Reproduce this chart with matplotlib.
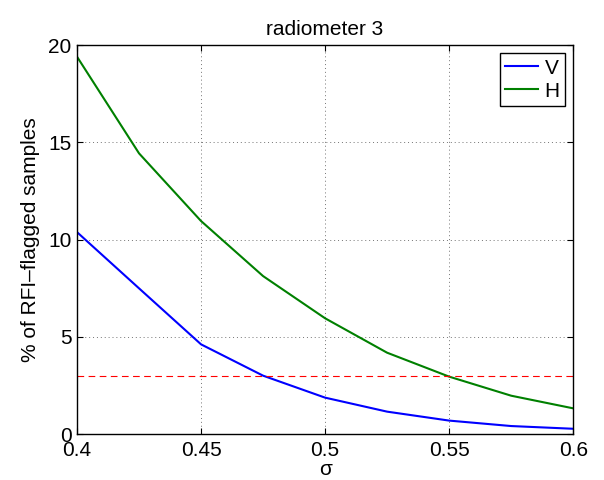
import matplotlib
matplotlib.use("Agg")
import matplotlib.pyplot as plt
import numpy as np

# data
sigma = [0.4, 0.425, 0.45, 0.475, 0.5, 0.525, 0.55, 0.575, 0.6]
pct_v = [10.38, 7.49, 4.61, 3.0, 1.87, 1.15, 0.69, 0.41, 0.27]
pct_h = [19.4, 14.43, 10.95, 8.12, 5.95, 4.18, 2.95, 1.97, 1.32]
threshold = 3.0
x_ticks = [0.4, 0.45, 0.5, 0.55, 0.6]
x_tick_labels = ["0.4", "0.45", "0.5", "0.55", "0.6"]
y_ticks = [0, 5, 10, 15, 20]

plt.rcParams['font.family'] = ['Liberation Sans', 'DejaVu Sans']
plt.rcParams['font.size'] = 15

fig = plt.figure(figsize=(6.04, 4.8), dpi=100)
ax = fig.add_axes([0.1275, 0.0958, 0.8215, 0.8104])

ax.plot(sigma, pct_v, color=(0, 0, 1), lw=1.5, label="V")
ax.plot(sigma, pct_h, color=(0, 0.5, 0), lw=1.5, label="H")
ax.axhline(threshold, color="red", lw=0.8, ls=(0, (6, 4)))

ax.set_xlim(0.4, 0.6)
ax.set_ylim(0, 20)
ax.set_xticks(x_ticks)
ax.set_xticklabels(x_tick_labels)
ax.set_yticks(y_ticks)
ax.grid(True, ls=(0, (1, 3)), color="0.45", lw=0.7)

ax.tick_params(direction="in", top=True, right=True, length=4, width=0.8)
ax.tick_params(axis="x", pad=5)
ax.tick_params(axis="y", pad=4)
for sp in ax.spines.values():
    sp.set_linewidth(1.0)

ax.set_xlabel("σ", labelpad=0)
ax.set_ylabel("% of RFI–flagged samples", labelpad=6)
ax.set_title("radiometer 3", fontsize=15, pad=7)

leg = ax.legend(loc="upper right", fancybox=False, edgecolor="black", framealpha=1,
                handlelength=1.6, handletextpad=0.3, borderpad=0.25,
                labelspacing=0.2, borderaxespad=0.4, fontsize=15)
leg.get_frame().set_linewidth(1.0)

fig.savefig("out.png", dpi=100)
